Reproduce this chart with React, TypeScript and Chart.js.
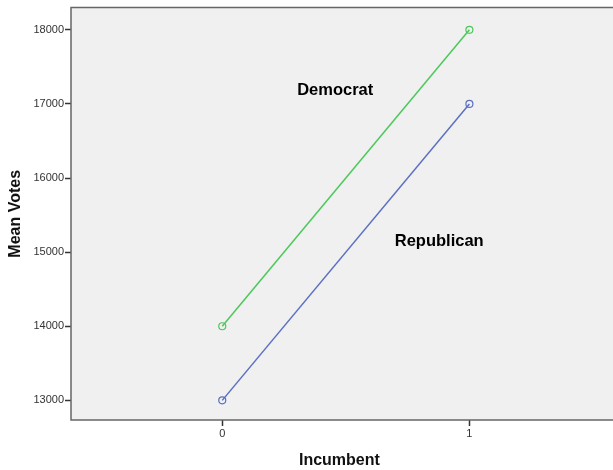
import React, { useEffect, useRef } from "react";
import { Chart, registerables } from "chart.js";

Chart.register(...registerables);

const incumbent = [0, 1];
const democratVotes = [14000, 18000];
const republicanVotes = [13000, 17000];
const yTicks = [13000, 14000, 15000, 16000, 17000, 18000];
const xTicks = [0, 1];
const seriesLabels = ["Democrat", "Republican"];
const labelPositions = [
  { x: 0.303, y: 17180 },
  { x: 0.698, y: 15140 },
];

const FONT = "'Liberation Sans', Arial, sans-serif";

const frame = {
  id: "frame",
  beforeDraw(chart: any) {
    const { ctx, chartArea } = chart;
    ctx.save();
    ctx.fillStyle = "#f0f0f0";
    ctx.fillRect(chartArea.left, chartArea.top, chart.width - chartArea.left, chartArea.bottom - chartArea.top);
    ctx.restore();
  },
  afterDraw(chart: any) {
    const { ctx, chartArea } = chart;
    ctx.save();
    ctx.strokeStyle = "#666666";
    ctx.lineWidth = 1.5;
    ctx.beginPath();
    ctx.moveTo(chart.width, chartArea.top);
    ctx.lineTo(chartArea.left, chartArea.top);
    ctx.lineTo(chartArea.left, chartArea.bottom);
    ctx.lineTo(chart.width, chartArea.bottom);
    ctx.stroke();
    const xs = chart.scales.x;
    const ys = chart.scales.y;
    ctx.fillStyle = "#000000";
    ctx.font = `bold 16.5px ${FONT}`;
    ctx.textAlign = "left";
    ctx.textBaseline = "middle";
    seriesLabels.forEach((t, i) => {
      ctx.fillText(t, xs.getPixelForValue(labelPositions[i].x), ys.getPixelForValue(labelPositions[i].y));
    });
    ctx.restore();
  },
};

export default function App() {
  const ref = useRef<HTMLCanvasElement>(null);
  useEffect(() => {
    if (!ref.current) return;
    const chart = new Chart(ref.current, {
      type: "line",
      data: {
        datasets: [
          {
            label: seriesLabels[0],
            data: incumbent.map((x, i) => ({ x, y: democratVotes[i] })),
            borderColor: "#4cc85a",
            backgroundColor: "transparent",
            pointBorderColor: "#4cc85a",
            pointBackgroundColor: "transparent",
            pointRadius: 3.5,
            pointBorderWidth: 1.2,
            borderWidth: 1.5,
          },
          {
            label: seriesLabels[1],
            data: incumbent.map((x, i) => ({ x, y: republicanVotes[i] })),
            borderColor: "#5b6fc4",
            backgroundColor: "transparent",
            pointBorderColor: "#5b6fc4",
            pointBackgroundColor: "transparent",
            pointRadius: 3.5,
            pointBorderWidth: 1.2,
            borderWidth: 1.5,
          },
        ],
      },
      options: {
        animation: false,
        responsive: false,
        layout: { padding: { top: 7, right: 0, left: 0, bottom: 0 } },
        plugins: { legend: { display: false }, tooltip: { enabled: false } },
        scales: {
          x: {
            type: "linear",
            min: -0.612,
            max: 1.56,
            afterBuildTicks: (s: any) => {
              s.ticks = xTicks.map((v) => ({ value: v }));
            },
            afterFit: (s: any) => {
              s.height = 50;
            },
            grid: { drawOnChartArea: false, drawTicks: true, tickLength: 6, color: "#333333", tickWidth: 1.5 },
            border: { display: false },
            ticks: { color: "#333333", font: { size: 11, family: FONT }, padding: 1, callback: (v: any) => String(v) },
            title: {
              display: true,
              text: "Incumbent",
              color: "#111111",
              font: { size: 16, weight: "bold", family: FONT },
              padding: { top: 0, bottom: 0 },
            },
          },
          y: {
            type: "linear",
            min: 12735,
            max: 18300,
            afterBuildTicks: (s: any) => {
              s.ticks = yTicks.map((v) => ({ value: v }));
            },
            afterFit: (s: any) => {
              s.width = 71;
            },
            grid: { drawOnChartArea: false, drawTicks: true, tickLength: 6, color: "#333333", tickWidth: 1.5 },
            border: { display: false },
            ticks: { color: "#333333", font: { size: 11, family: FONT }, padding: 1, callback: (v: any) => String(v) },
            title: {
              display: true,
              text: "Mean Votes",
              color: "#111111",
              font: { size: 16, weight: "bold", family: FONT },
              padding: { top: 6, bottom: 0 },
            },
          },
        },
      },
      plugins: [frame],
    });
    return () => chart.destroy();
  }, []);
  return (
    <div style={{ position: "fixed", left: 0, top: 0, width: 613, height: 470, background: "#ffffff" }}>
      <canvas ref={ref} width={613} height={470} />
    </div>
  );
}
